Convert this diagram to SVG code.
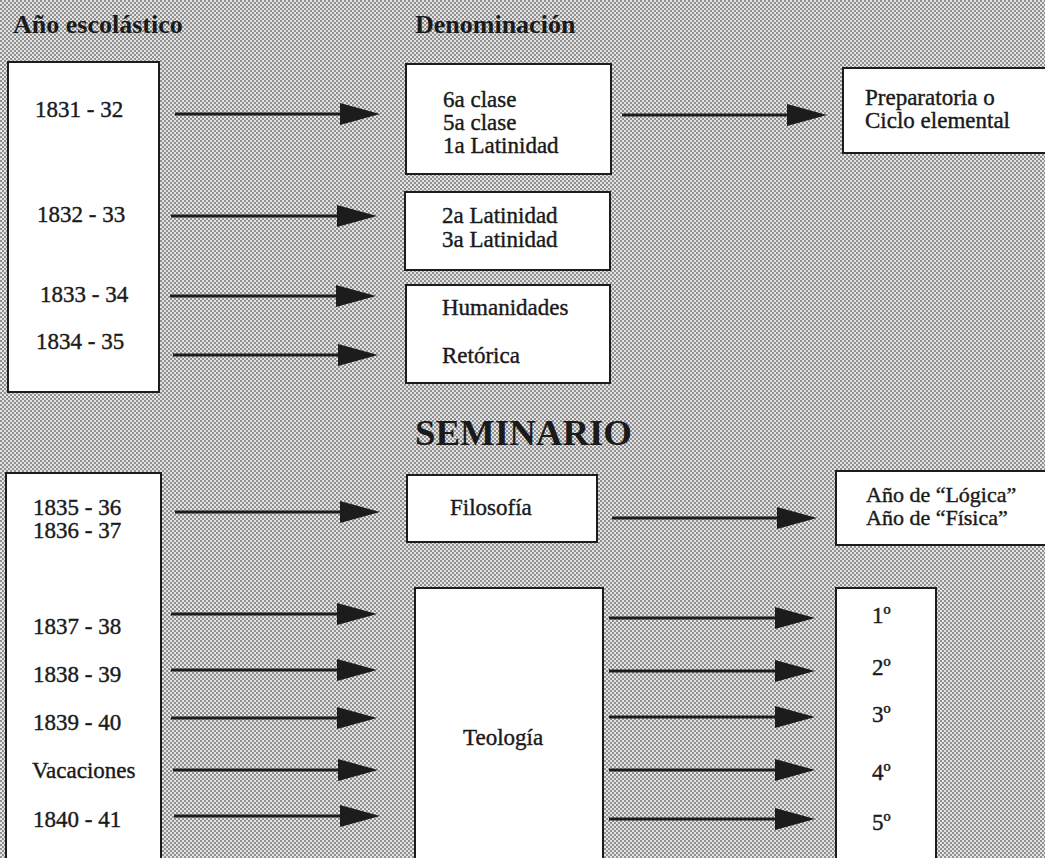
<svg xmlns="http://www.w3.org/2000/svg" width="1045" height="858" viewBox="0 0 1045 858">
<defs>
<pattern id="dots" width="4" height="4" patternUnits="userSpaceOnUse">
<rect width="4" height="4" fill="#e4e4e4"/>
<rect x="0" y="0" width="2" height="2" fill="#909090"/>
<rect x="2" y="2" width="2" height="2" fill="#909090"/>
</pattern>
<marker id="ah" markerUnits="userSpaceOnUse" markerWidth="40" markerHeight="22" viewBox="0 0 40 22" refX="5" refY="11" orient="auto">
<path d="M0,0 L40,11 L0,22 Z" fill="#1c1c1c"/>
</marker>
</defs>
<style>
.box{fill:#fff;stroke:#1c1c1c;stroke-width:2}
.t{font-family:"Liberation Serif","Times New Roman",serif;font-size:23px;fill:#1a1a1a;stroke:#1a1a1a;stroke-width:0.4}
.s{font-size:22px}
.h{font-family:"Liberation Serif","Times New Roman",serif;font-size:26px;font-weight:bold;fill:#1a1a1a}
.big{font-family:"Liberation Serif","Times New Roman",serif;font-size:36px;font-weight:bold;fill:#1a1a1a}
.c{stroke:#1c1c1c;stroke-width:3;fill:none;marker-end:url(#ah)}
</style>
<rect width="1045" height="858" fill="url(#dots)"/>

<text class="h" x="13" y="33">Año escolástico</text>
<text class="h" x="415" y="33">Denominación</text>
<text class="big" x="415" y="445" textLength="217" lengthAdjust="spacingAndGlyphs">SEMINARIO</text>

<g id="years-top">
<rect class="box" x="8" y="62" width="151" height="330"/>
<text class="t" x="35" y="117">1831 - 32</text>
<text class="t" x="37" y="222">1832 - 33</text>
<text class="t" x="40" y="302">1833 - 34</text>
<text class="t" x="36" y="349">1834 - 35</text>
</g>

<g id="clases">
<rect class="box" x="406" y="64" width="205" height="110"/>
<text class="t" x="443" y="107">6a clase</text>
<text class="t" x="443" y="130">5a clase</text>
<text class="t" x="443" y="153">1a Latinidad</text>
</g>

<g id="latinidad">
<rect class="box" x="405" y="192" width="205" height="78"/>
<text class="t" x="442" y="223">2a Latinidad</text>
<text class="t" x="442" y="247">3a Latinidad</text>
</g>

<g id="humanidades">
<rect class="box" x="406" y="285" width="204" height="98"/>
<text class="t" x="442" y="315">Humanidades</text>
<text class="t" x="442" y="363">Retórica</text>
</g>

<g id="preparatoria">
<rect class="box" x="843" y="68" width="215" height="85"/>
<text class="t" x="865" y="105">Preparatoria o</text>
<text class="t" x="865" y="128">Ciclo elemental</text>
</g>

<g id="years-bottom">
<rect class="box" x="6" y="473" width="155" height="400"/>
<text class="t" x="33" y="515">1835 - 36</text>
<text class="t" x="33" y="538">1836 - 37</text>
<text class="t" x="33" y="634">1837 - 38</text>
<text class="t" x="33" y="682">1838 - 39</text>
<text class="t" x="33" y="730">1839 - 40</text>
<text class="t" x="32" y="778">Vacaciones</text>
<text class="t" x="33" y="827">1840 - 41</text>
</g>

<g id="filosofia">
<rect class="box" x="407" y="475" width="190" height="67"/>
<text class="t" x="450" y="515">Filosofía</text>
</g>

<g id="logica-fisica">
<rect class="box" x="836" y="471" width="220" height="74"/>
<text class="t s" x="866" y="502">Año de “Lógica”</text>
<text class="t s" x="866" y="525">Año de “Física”</text>
</g>

<g id="teologia">
<rect class="box" x="415" y="588" width="188" height="290"/>
<text class="t" x="463" y="745">Teología</text>
</g>

<g id="cursos">
<rect class="box" x="836" y="588" width="100" height="290"/>
<text class="t" x="872" y="623">1º</text>
<text class="t" x="872" y="675">2º</text>
<text class="t" x="872" y="722">3º</text>
<text class="t" x="872" y="780">4º</text>
<text class="t" x="872" y="830">5º</text>
</g>

<g id="connectors">
<path class="c" d="M175,114 H345"/>
<path class="c" d="M171,216 H342"/>
<path class="c" d="M170,296 H341"/>
<path class="c" d="M173,355 H343"/>
<path class="c" d="M622,115 H792"/>
<path class="c" d="M175,512 H345"/>
<path class="c" d="M171,614 H342"/>
<path class="c" d="M171,670 H342"/>
<path class="c" d="M171,718 H342"/>
<path class="c" d="M173,770 H343"/>
<path class="c" d="M174,816 H345"/>
<path class="c" d="M612,518 H782"/>
<path class="c" d="M609,618 H780"/>
<path class="c" d="M609,671 H780"/>
<path class="c" d="M609,717 H780"/>
<path class="c" d="M609,770 H780"/>
<path class="c" d="M609,819 H780"/>
</g>
</svg>
